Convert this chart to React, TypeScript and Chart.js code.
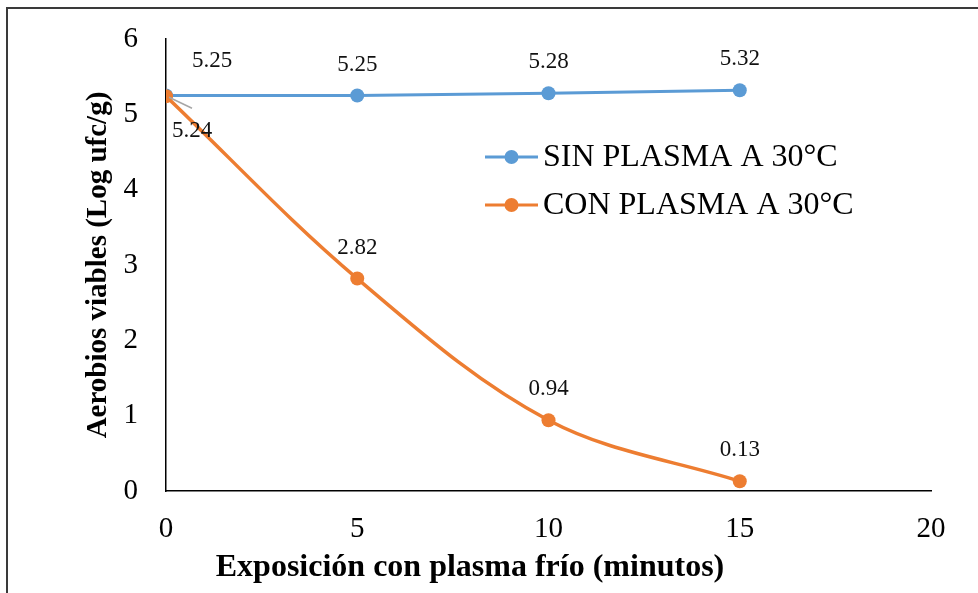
import React, { useEffect, useRef } from "react";
import { Chart, registerables } from "chart.js";

Chart.register(...registerables);

const minutes = [0, 5, 10, 15];
const sinPlasma = [5.25, 5.25, 5.28, 5.32];
const conPlasma = [5.24, 2.82, 0.94, 0.13];
const seriesNames = ["SIN PLASMA A 30°C", "CON PLASMA A 30°C"];
const xTitle = "Exposición con plasma frío (minutos)";
const yTitle = "Aerobios viables (Log ufc/g)";

const BLUE = "#5B9BD5";
const ORANGE = "#ED7D31";
const FONT = "'Liberation Serif', 'Times New Roman', serif";

const frameAndLabels = {
  id: "frameAndLabels",
  beforeDraw(chart: any) {
    const ctx = chart.ctx;
    ctx.save();
    ctx.fillStyle = "#fff";
    ctx.fillRect(0, 0, chart.width, chart.height);
    ctx.strokeStyle = "#3a3a3a";
    ctx.lineWidth = 2;
    ctx.strokeRect(7, 8, chart.width + 40, chart.height + 40);
    ctx.restore();
  },
  afterDatasetsDraw(chart: any) {
    const ctx = chart.ctx;
    ctx.save();
    ctx.font = `23px ${FONT}`;
    ctx.fillStyle = "#111";
    ctx.textAlign = "center";
    ctx.textBaseline = "middle";
    chart.data.datasets.forEach((ds: any, di: number) => {
      const meta = chart.getDatasetMeta(di);
      meta.data.forEach((pt: any, i: number) => {
        const v = ds.data[i].y;
        let dx = 0;
        let dy = -31;
        if (i === 0 && ds.label === seriesNames[0]) {
          dx = 46;
          dy = -35;
        }
        if (i === 0 && ds.label === seriesNames[1]) {
          dx = 26;
          dy = 35;
          ctx.strokeStyle = "#A6A6A6";
          ctx.lineWidth = 1.5;
          ctx.beginPath();
          ctx.moveTo(pt.x + 3, pt.y + 1);
          ctx.lineTo(pt.x + 26, pt.y + 12);
          ctx.stroke();
        }
        ctx.fillText(v.toFixed(2), pt.x + dx, pt.y + dy);
      });
    });
    // legend
    const ca = chart.chartArea;
    const lx = ca.left + 319;
    const ly = ca.top + 118;
    const colors = [BLUE, ORANGE];
    ctx.font = `32px ${FONT}`;
    ctx.textAlign = "left";
    ctx.fillStyle = "#000";
    seriesNames.forEach((name, k) => {
      const y = ly + k * 48;
      ctx.strokeStyle = colors[k];
      ctx.lineWidth = 3;
      ctx.beginPath();
      ctx.moveTo(lx, y);
      ctx.lineTo(lx + 53, y);
      ctx.stroke();
      ctx.fillStyle = colors[k];
      ctx.beginPath();
      ctx.arc(lx + 26.5, y, 7, 0, Math.PI * 2);
      ctx.fill();
      ctx.fillStyle = "#000";
      ctx.fillText(name, lx + 58, y + 1);
    });
    // x axis title
    ctx.font = `bold 32px ${FONT}`;
    ctx.textAlign = "center";
    ctx.fillText(xTitle, ca.left + 304, ca.bottom + 77);
    ctx.restore();
  },
};

export default function App() {
  const ref = useRef<HTMLCanvasElement | null>(null);
  useEffect(() => {
    if (!ref.current) return;
    const chart = new Chart(ref.current, {
      type: "line",
      data: {
        datasets: [
          {
            label: seriesNames[0],
            data: minutes.map((m, i) => ({ x: m, y: sinPlasma[i] })),
            borderColor: BLUE,
            backgroundColor: BLUE,
            borderWidth: 3,
            pointRadius: 7,
            pointHoverRadius: 7,
            pointBorderWidth: 0,
            tension: 0,
            order: 1,
          },
          {
            label: seriesNames[1],
            data: minutes.map((m, i) => ({ x: m, y: conPlasma[i] })),
            borderColor: ORANGE,
            backgroundColor: ORANGE,
            borderWidth: 3.5,
            pointRadius: 7,
            pointHoverRadius: 7,
            pointBorderWidth: 0,
            tension: 0.35,
            order: 0,
          },
        ],
      },
      options: {
        responsive: false,
        animation: false,
        layout: { padding: { top: 39, right: 47, bottom: 0, left: 0 } },
        plugins: {
          legend: { display: false },
          tooltip: { enabled: false },
        },
        scales: {
          x: {
            type: "linear",
            min: 0,
            max: 20,
            ticks: {
              stepSize: 5,
              color: "#000",
              padding: 21,
              font: { family: FONT, size: 29 },
            },
            grid: { display: false, drawTicks: false },
            border: { display: true, color: "#000", width: 1.5 },
            title: { display: false },
            afterFit(scale: any) {
              scale.height = 102;
            },
          },
          y: {
            type: "linear",
            min: 0,
            max: 6,
            ticks: {
              stepSize: 1,
              color: "#000",
              padding: 28,
              font: { family: FONT, size: 29 },
            },
            grid: { display: false, drawTicks: false },
            border: { display: true, color: "#000", width: 1.5 },
            title: {
              display: true,
              text: yTitle,
              color: "#000",
              padding: { top: 81, bottom: 0 },
              font: { family: FONT, size: 29, weight: "bold" },
            },
            afterFit(scale: any) {
              scale.width = 166;
              scale.paddingTop = 0;
              scale.paddingBottom = 0;
            },
          },
        },
      },
      plugins: [frameAndLabels],
    });
    return () => chart.destroy();
  }, []);
  return (
    <div style={{ position: "absolute", left: 0, top: 0, width: 978, height: 593 }}>
      <canvas ref={ref} width={978} height={593} style={{ width: 978, height: 593, display: "block" }} />
    </div>
  );
}
